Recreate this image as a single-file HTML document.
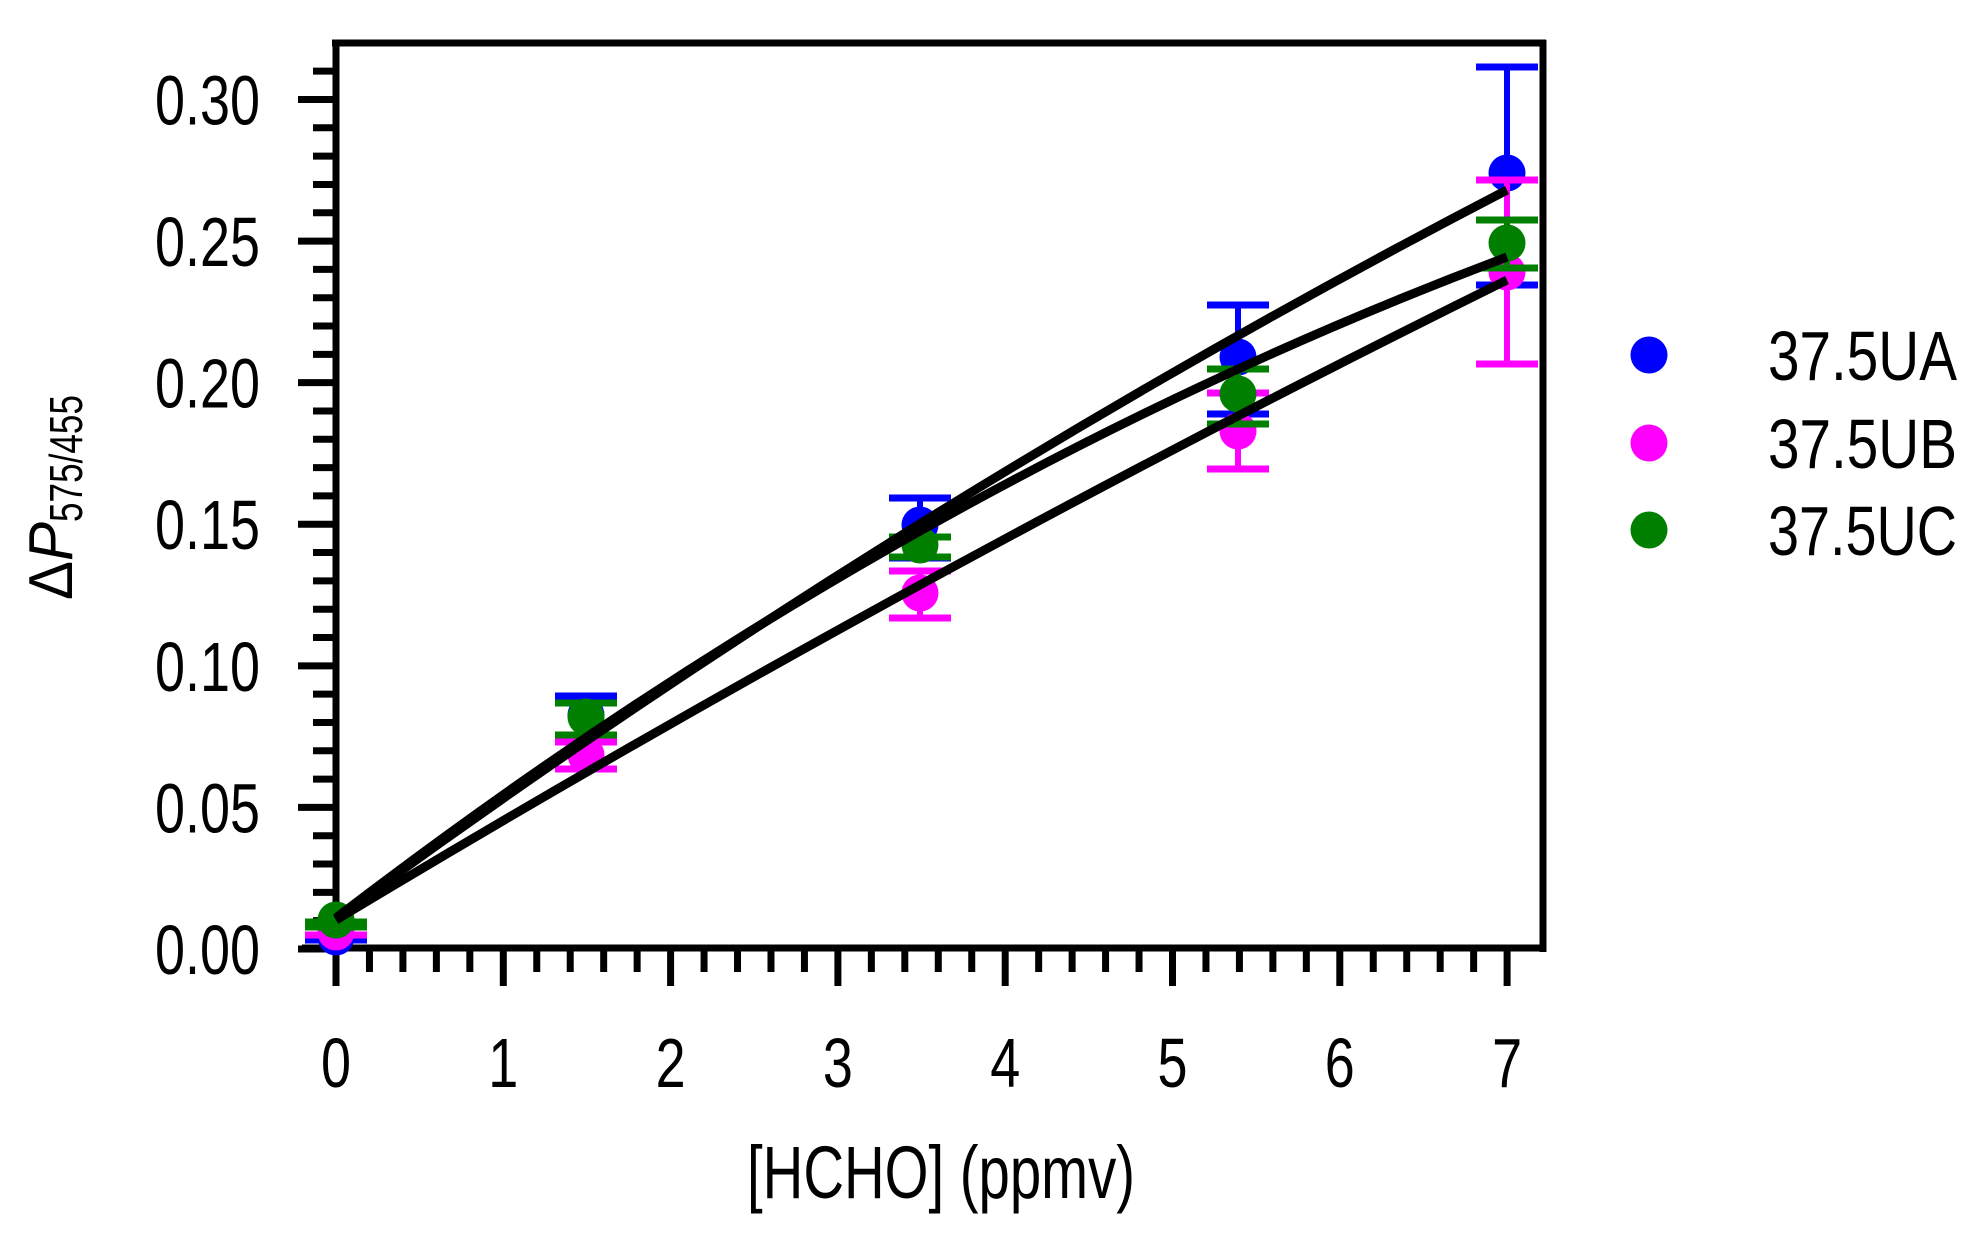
<!DOCTYPE html>
<html><head><style>html,body{margin:0;padding:0;background:#fff}svg{display:block}</style></head>
<body>
<svg width="1986" height="1236" viewBox="0 0 1986 1236" xmlns="http://www.w3.org/2000/svg" font-family="Liberation Sans, Arial, sans-serif">
<rect width="1986" height="1236" fill="#fff"/>
<g stroke="#000" stroke-width="7" fill="none">
<line x1="336" y1="40" x2="336" y2="952"/>
<line x1="302" y1="948" x2="1546" y2="948"/>
<line x1="332" y1="43" x2="1546" y2="43"/>
<line x1="1543" y1="40" x2="1543" y2="952"/>
</g>
<g stroke="#000" stroke-width="7" id="yt"></g>
<g stroke="#000" stroke-width="7" id="xt"></g>
<g font-size="70" fill="#000" id="yl"></g>
<g font-size="70" fill="#000" id="xl"></g>
<g id="ser"></g>
<g stroke="#000" stroke-width="9" fill="none" stroke-linecap="butt">
<path d="M336,918 Q900,505 1507,190"/>
<path d="M336,918 Q900,485 1507,257"/>
<path d="M336,920 Q900,580 1507,280"/>
</g>
<circle cx="1649" cy="355" r="18.5" fill="#0000ff"/>
<circle cx="1649" cy="443" r="18.5" fill="#ff00ff"/>
<circle cx="1649" cy="530" r="18.5" fill="#007f00"/>
<g font-size="70" fill="#000">
<text x="1768" y="380" textLength="189" lengthAdjust="spacingAndGlyphs">37.5UA</text>
<text x="1768" y="468" textLength="189" lengthAdjust="spacingAndGlyphs">37.5UB</text>
<text x="1768" y="555" textLength="189" lengthAdjust="spacingAndGlyphs">37.5UC</text>
<text x="747" y="1198" font-size="74" textLength="388" lengthAdjust="spacingAndGlyphs">[HCHO] (ppmv)</text>
</g>
<g transform="translate(72,600) rotate(-90)" fill="#000">
<text x="0" y="0" font-size="62" textLength="78" lengthAdjust="spacingAndGlyphs">Δ<tspan font-style="italic">P</tspan></text>
<text x="78" y="10" font-size="46" textLength="127" lengthAdjust="spacingAndGlyphs">575/455</text>
</g>
<script>
var ns="http://www.w3.org/2000/svg";
function el(p,t,a,txt){var e=document.createElementNS(ns,t);for(var k in a)e.setAttribute(k,a[k]);if(txt)e.textContent=txt;document.getElementById(p).appendChild(e);}
function py(v){return 949-2831.7*v;}
for(var i=0;i<=31;i++){var y=py(i*0.01);if(y<46)continue;var maj=(i%5==0);el('yt','line',{x1:maj?298:313,x2:336,y1:y,y2:y});}
for(var i=0;i<=6;i++){el('yl','text',{x:155,y:py(i*0.05)+25,textLength:105,lengthAdjust:'spacingAndGlyphs'},(i*0.05).toFixed(2));}
function px(x){return 336+167.3*x;}
for(var i=0;i<=36;i++){var x=px(i*0.2);if(x>1540)continue;var maj=(i%5==0);el('xt','line',{x1:x,x2:x,y1:948,y2:maj?986:972});}
for(var i=0;i<=7;i++){el('xl','text',{x:px(i),y:1087,'text-anchor':'middle',textLength:30,lengthAdjust:'spacingAndGlyphs'},String(i));}
var S=[
 ['#0000ff',[[336,940,937,940],[586,696,715,735],[920,498,525,558],[1238,305,357,414],[1507,67,173,285]]],
 ['#ff00ff',[[336,935,932,935],[586,742,755,769],[920,571,593,618],[1238,393,431,469],[1507,180,272,364]]],
 ['#007f00',[[336,922,920,927],[586,703,717,735],[920,537,545,557],[1238,369,394,424],[1507,220,243,268]]]
];
S.forEach(function(s){s[1].forEach(function(p){
 el('ser','line',{x1:p[0],x2:p[0],y1:p[1],y2:p[3],stroke:s[0],'stroke-width':6});
 el('ser','line',{x1:p[0]-31,x2:p[0]+31,y1:p[1],y2:p[1],stroke:s[0],'stroke-width':7});
 el('ser','line',{x1:p[0]-31,x2:p[0]+31,y1:p[3],y2:p[3],stroke:s[0],'stroke-width':7});
 el('ser','circle',{cx:p[0],cy:p[2],r:18.5,fill:s[0]});
});});
</script>
</svg>
</body></html>
